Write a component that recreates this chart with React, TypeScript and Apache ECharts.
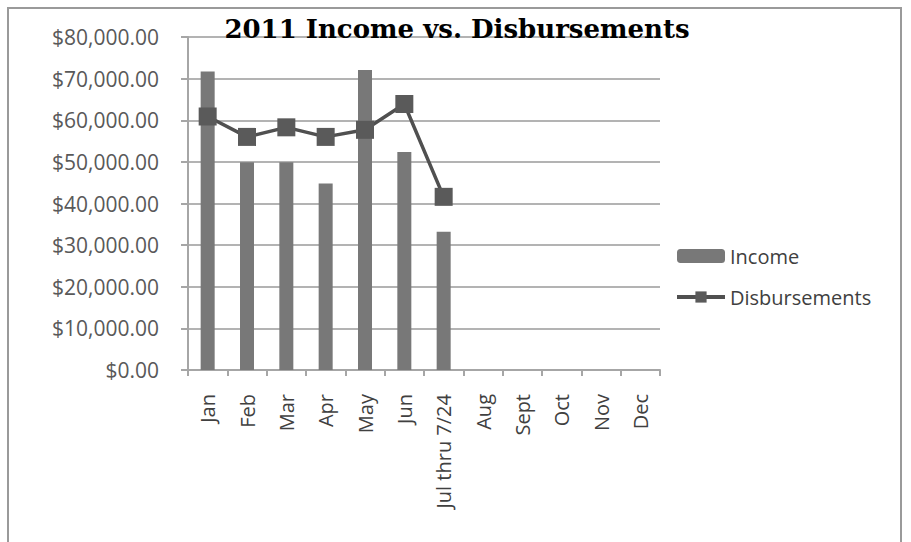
import React, { useEffect, useRef } from "react";
import * as echarts from "echarts";

const categories = ["Jan", "Feb", "Mar", "Apr", "May", "Jun", "Jul thru 7/24", "Aug", "Sept", "Oct", "Nov", "Dec"];
const income = [71700, 49900, 49900, 44800, 72100, 52400, 33200, null, null, null, null, null];
const disbursements = [60900, 56000, 58300, 56000, 57700, 63900, 41600, null, null, null, null, null];
const yTicks = { min: 0, max: 80000, interval: 10000 };

export default function App() {
  const ref = useRef<HTMLDivElement>(null);
  useEffect(() => {
    if (!ref.current) return;
    const chart = echarts.init(ref.current, null, { renderer: "svg" });
    const axisFont = "'Open Sans', 'Noto Sans', sans-serif";
    chart.setOption({
      animation: false,
      backgroundColor: "#ffffff",
      title: {
        text: "2011 Income vs. Disbursements",
        left: 452,
        textAlign: "center",
        top: 11,
        textStyle: { fontFamily: "'DejaVu Serif', serif", fontWeight: "bold", fontSize: 26, color: "#000" },
      },
      graphic: [
        {
          type: "rect",
          shape: { x: 8, y: 8, width: 893, height: 545 },
          style: { fill: "none", stroke: "#9a9a9a", lineWidth: 2 },
          silent: true,
          z: -1,
        },
      ],
      legend: {
        orient: "vertical",
        left: 670,
        top: 241,
        itemGap: 21,
        itemWidth: 48,
        itemHeight: 14,
        textStyle: { fontFamily: axisFont, fontSize: 20, color: "#404040" },
        lineStyle: { width: 4 },
        data: ["Income", "Disbursements"],
      },
      grid: { left: 188, top: 37, right: 251, bottom: 172, containLabel: false },
      xAxis: {
        type: "category",
        data: categories,
        boundaryGap: true,
        axisLine: { lineStyle: { color: "#a6a6a6", width: 2 } },
        axisTick: { show: true, length: 6, lineStyle: { color: "#a6a6a6", width: 2 } },
        axisLabel: {
          rotate: 90,
          interval: 0,
          margin: 24,
          fontFamily: axisFont,
          fontSize: 20,
          color: "#404040",
        },
      },
      yAxis: {
        type: "value",
        min: yTicks.min,
        max: yTicks.max,
        interval: yTicks.interval,
        axisLine: { show: true, lineStyle: { color: "#a6a6a6", width: 2 } },
        axisTick: { show: true, length: 7, lineStyle: { color: "#a6a6a6", width: 2 } },
        splitLine: { show: true, lineStyle: { color: "#b3b3b3", width: 2 } },
        axisLabel: {
          margin: 29,
          fontFamily: axisFont,
          fontSize: 21,
          color: "#595959",
          formatter: (v: number) =>
            "$" + v.toLocaleString("en-US", { minimumFractionDigits: 2, maximumFractionDigits: 2 }),
        },
      },
      series: [
        {
          name: "Income",
          type: "bar",
          data: income,
          barWidth: 14,
          itemStyle: { color: "#787878" },
        },
        {
          name: "Disbursements",
          type: "line",
          data: disbursements,
          symbol: "rect",
          symbolSize: 18,
          lineStyle: { color: "#505050", width: 3.5 },
          itemStyle: { color: "#5a5a5a" },
          connectNulls: false,
        },
      ],
    });
    return () => chart.dispose();
  }, []);
  return <div ref={ref} style={{ position: "fixed", left: 0, top: 0, width: 911, height: 542 }} />;
}
